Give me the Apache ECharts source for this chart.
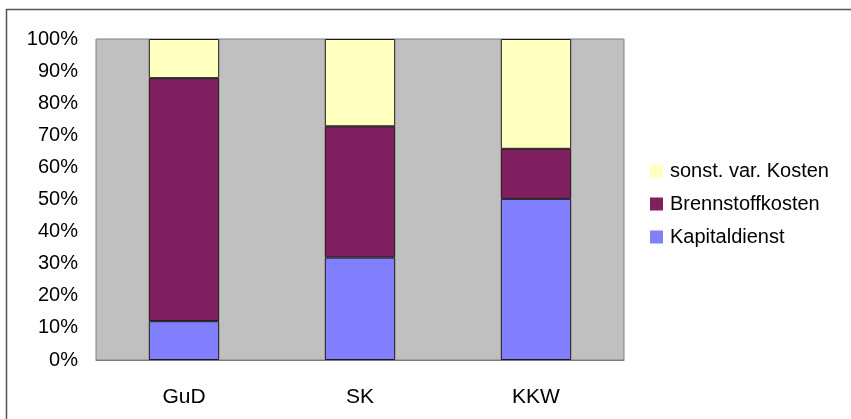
<!DOCTYPE html>
<html>
<head>
<meta charset="utf-8">
<script src="https://cdn.jsdelivr.net/npm/echarts@6/dist/echarts.min.js"></script>
<style>
  html, body { margin: 0; padding: 0; background: #fff; }
  #chart { width: 851px; height: 419px; }
</style>
</head>
<body>
<div id="chart"></div>
<script>
// Cost shares per power plant type (percent of total)
const categories = ['GuD', 'SK', 'KKW'];
const kapitaldienst = [12.1, 31.9, 50.2];
const brennstoffkosten = [75.7, 40.9, 15.6];
const sonstVarKosten = [12.2, 27.2, 34.2];
const seriesNames = ['Kapitaldienst', 'Brennstoffkosten', 'sonst. var. Kosten'];
const legendOrder = ['sonst. var. Kosten', 'Brennstoffkosten', 'Kapitaldienst'];

const FONT = '"Liberation Sans", Arial, sans-serif';
const chart = echarts.init(document.getElementById('chart'), null, { renderer: 'canvas' });

const barStyle = (color) => ({ color: color, borderColor: '#1a1a1a', borderWidth: 1 });

chart.setOption({
  animation: false,
  backgroundColor: '#ffffff',
  textStyle: { fontFamily: FONT },
  graphic: [{
    type: 'rect',
    shape: { x: 6.5, y: 9.5, width: 900, height: 500 },
    style: { fill: 'none', stroke: '#555', lineWidth: 1.5 },
    silent: true,
    z: 100
  }],
  grid: {
    left: 96, right: 227, top: 39, bottom: 59,
    show: true, backgroundColor: '#C0C0C0', borderColor: '#808080', borderWidth: 1
  },
  legend: {
    orient: 'vertical',
    left: 645, top: 156,
    data: legendOrder,
    icon: 'rect',
    itemWidth: 13, itemHeight: 13, itemGap: 13,
    itemStyle: { borderWidth: 0 },
    textStyle: { fontFamily: FONT, fontSize: 20, color: '#000', padding: [0, 0, 0, 2] }
  },
  xAxis: {
    type: 'category',
    data: categories,
    axisLine: { show: true, lineStyle: { color: '#808080', width: 1 } },
    axisTick: { show: false },
    axisLabel: { fontFamily: FONT, fontSize: 21, color: '#000', margin: 27 }
  },
  yAxis: {
    type: 'value',
    min: 0, max: 100, interval: 10,
    axisLine: { show: false },
    axisTick: { show: false },
    splitLine: { show: false },
    axisLabel: { fontFamily: FONT, fontSize: 20, color: '#000', margin: 18, formatter: '{value}%' }
  },
  series: [
    { name: seriesNames[0], type: 'bar', stack: 'total', barWidth: '40%', data: kapitaldienst, itemStyle: barStyle('#8080FF') },
    { name: seriesNames[1], type: 'bar', stack: 'total', barWidth: '40%', data: brennstoffkosten, itemStyle: barStyle('#7F1F5F') },
    { name: seriesNames[2], type: 'bar', stack: 'total', barWidth: '40%', data: sonstVarKosten, itemStyle: barStyle('#FFFFC0') }
  ]
});
</script>
</body>
</html>
